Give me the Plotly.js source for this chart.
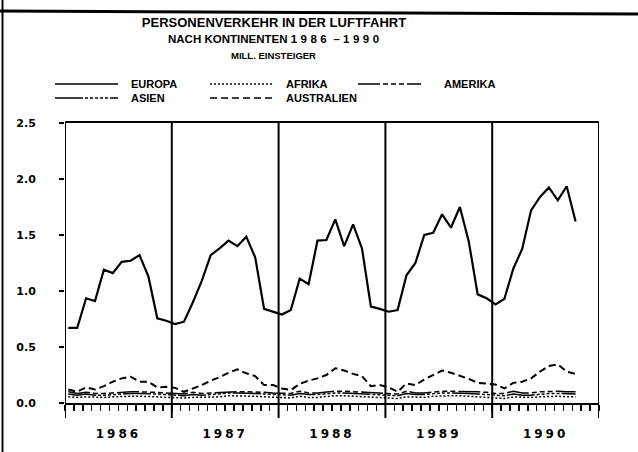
<!DOCTYPE html>
<html><head><meta charset="utf-8">
<script src="https://cdn.plot.ly/plotly-3.0.1.min.js"></script>
<style>
html,body{margin:0;padding:0;background:#fff;}
#chart{width:638px;height:452px;}
.xtick text{letter-spacing:3px;}
</style></head><body><div id="chart"></div>
<script>
// ---- data ----
const years = [1986, 1987, 1988, 1989, 1990];
const yearLabels = ['1986', '1987', '1988', '1989', '1990'];
const yTickVals = [0, 0.5, 1, 1.5, 2, 2.5];
const yTickLabels = ['0.0', '0.5', '1.0', '1.5', '2.0', '2.5'];
const seriesNames = ['EUROPA', 'AFRIKA', 'AMERIKA', 'ASIEN', 'AUSTRALIEN'];
// monthly values, Jan 1986 .. Oct 1990 (Mill. Einsteiger)
const europa = [0.67,0.67,0.935,0.91,1.19,1.16,1.26,1.27,1.32,1.13,0.756,0.735,
  0.705,0.726,0.90,1.09,1.32,1.38,1.45,1.40,1.485,1.30,0.84,0.815,
  0.79,0.83,1.11,1.06,1.45,1.455,1.64,1.40,1.595,1.38,0.86,0.84,
  0.815,0.83,1.14,1.25,1.50,1.52,1.685,1.565,1.75,1.44,0.97,0.935,
  0.88,0.93,1.20,1.375,1.72,1.84,1.925,1.81,1.935,1.62];
const afrika = [0.056,0.050,0.055,0.050,0.050,0.055,0.060,0.060,0.060,0.060,0.055,0.050,
  0.045,0.045,0.050,0.050,0.050,0.055,0.065,0.065,0.065,0.060,0.055,0.050,
  0.045,0.045,0.060,0.050,0.050,0.060,0.065,0.065,0.060,0.060,0.055,0.050,
  0.045,0.040,0.055,0.050,0.050,0.060,0.065,0.065,0.065,0.060,0.055,0.045,
  0.040,0.040,0.055,0.050,0.050,0.055,0.060,0.060,0.056,0.056];
const amerika = [0.100,0.085,0.095,0.085,0.085,0.090,0.100,0.100,0.100,0.100,0.095,0.090,
  0.085,0.080,0.095,0.085,0.090,0.095,0.100,0.100,0.100,0.100,0.095,0.090,
  0.085,0.085,0.105,0.090,0.090,0.100,0.105,0.105,0.100,0.100,0.095,0.090,
  0.085,0.080,0.105,0.090,0.090,0.100,0.105,0.105,0.105,0.100,0.100,0.095,
  0.085,0.085,0.105,0.090,0.090,0.100,0.105,0.105,0.100,0.100];
const asien = [0.080,0.070,0.080,0.070,0.070,0.075,0.085,0.085,0.085,0.085,0.080,0.075,
  0.070,0.065,0.075,0.070,0.075,0.085,0.090,0.090,0.090,0.085,0.080,0.075,
  0.070,0.070,0.085,0.075,0.075,0.085,0.090,0.090,0.085,0.085,0.080,0.075,
  0.065,0.065,0.085,0.075,0.075,0.085,0.090,0.090,0.090,0.085,0.080,0.075,
  0.065,0.065,0.080,0.070,0.070,0.080,0.085,0.085,0.080,0.080];
const australien = [0.12,0.10,0.14,0.12,0.15,0.19,0.22,0.235,0.19,0.19,0.14,0.145,
  0.135,0.10,0.13,0.16,0.20,0.23,0.27,0.30,0.265,0.24,0.16,0.16,
  0.13,0.116,0.17,0.20,0.22,0.25,0.31,0.29,0.26,0.24,0.15,0.16,
  0.14,0.10,0.175,0.16,0.21,0.25,0.29,0.27,0.245,0.215,0.18,0.17,
  0.165,0.13,0.18,0.19,0.22,0.28,0.33,0.345,0.28,0.26];
const seriesValues = [europa, afrika, amerika, asien, australien];

// ---- styles ----
const styles = [
  {dash: 'solid', width: 2.2},
  {dash: '2px,2px', width: 1.5},
  {dash: '22px,3px,5px,3px,5px,3px,5px,3px', width: 1.5},
  {dash: '28px,2px,3px,2px,3px,2px,3px,2px,3px,2px,3px,2px', width: 1.5},
  {dash: '7px,4px', width: 2}
];
const W = 638, H = 452, ML = 65, MR = 39, MT = 123, MB = 49;
const PW = W - ML - MR, PH = H - MT - MB;
const px = v => (v - ML) / PW;          // pixel -> paper x
const py = v => (H - MB - v) / PH;      // pixel -> paper y
const MONTH_OFFSET = 0.37;

const traces = seriesValues.map((vals, s) => ({
  type: 'scatter', mode: 'lines', name: seriesNames[s],
  x: vals.map((_, i) => years[0] + (i + MONTH_OFFSET) / 12),
  y: vals,
  line: {color: '#000', width: styles[s].width, dash: styles[s].dash},
  showlegend: false, hoverinfo: 'x+y+name'
}));

const shapes = [];
// year separators (incl. both frame sides)
years.concat([years[years.length - 1] + 1]).forEach(yr => {
  shapes.push({type: 'line', xref: 'x', yref: 'paper', x0: yr, x1: yr,
    y0: -15 / PH, y1: 1, line: {color: '#000', width: 2}});
});
// page frame (top and left border of scanned sheet)
shapes.push({type: 'line', xref: 'paper', yref: 'paper', x0: px(0), x1: px(W),
  y0: py(11), y1: py(14), line: {color: '#000', width: 3}});
shapes.push({type: 'line', xref: 'paper', yref: 'paper', x0: px(2.5), x1: px(2.5),
  y0: py(0), y1: py(H), line: {color: '#000', width: 2}});

// custom legend
const legendPos = [
  {lx: 55, tx: 130, y: 84}, {lx: 210, tx: 285, y: 84}, {lx: 358, tx: 443, y: 84},
  {lx: 55, tx: 130, y: 98}, {lx: 210, tx: 285, y: 98}
];
const annotations = [];
seriesNames.forEach((n, s) => {
  const p = legendPos[s];
  shapes.push({type: 'line', xref: 'paper', yref: 'paper', x0: px(p.lx), x1: px(p.lx + 63),
    y0: py(p.y), y1: py(p.y), line: {color: '#000', width: 1.5, dash: styles[s].dash}});
  annotations.push({xref: 'paper', yref: 'paper', x: px(p.tx), y: py(p.y), text: n,
    showarrow: false, xanchor: 'left', yanchor: 'middle', borderpad: 0,
    font: {family: 'Liberation Sans', size: 11, weight: 'bold', color: '#000'}});
});
annotations.push({xref: 'paper', yref: 'paper', x: px(275), y: py(39),
  text: "NACH KONTINENTEN <span style='letter-spacing:3.5px'>1986</span> – <span style='letter-spacing:3.5px'>1990</span>",
  showarrow: false, xanchor: 'center', yanchor: 'middle', borderpad: 0,
  font: {family: 'Liberation Sans', size: 11.5, weight: 'bold', color: '#000'}});
annotations.push({xref: 'paper', yref: 'paper', x: px(273), y: py(55),
  text: 'MILL. EINSTEIGER', showarrow: false, xanchor: 'center', yanchor: 'middle', borderpad: 0,
  font: {family: 'Liberation Sans', size: 9.5, weight: 'bold', color: '#000'}});

const tickFont = {family: 'DejaVu Sans', size: 11, weight: 'bold', color: '#000'};
const layout = {
  width: W, height: H,
  margin: {l: ML, r: MR, t: MT, b: MB, pad: 0},
  paper_bgcolor: '#fff', plot_bgcolor: '#fff',
  title: {text: 'PERSONENVERKEHR IN DER LUFTFAHRT', x: 274 / W, xanchor: 'center',
    y: 1 - 22 / H, yanchor: 'middle',
    font: {family: 'Liberation Sans', size: 13, weight: 'bold', color: '#000'}},
  showlegend: false,
  xaxis: {range: [years[0], years[years.length - 1] + 1], showgrid: false, zeroline: false,
    showline: true, linecolor: '#000', linewidth: 2, mirror: true,
    tickvals: years.map(y => y + 0.5), ticktext: yearLabels,
    ticks: 'outside', ticklen: 6, tickwidth: 1.5, tickcolor: '#000',
    minor: {tick0: years[0], dtick: 1 / 12, ticks: 'outside', ticklen: 6, tickwidth: 1.5, tickcolor: '#000', showgrid: false},
    tickfont: {family: 'DejaVu Sans', size: 12, weight: 'bold', color: '#000'},
    ticklabelstandoff: 13, fixedrange: true},
  yaxis: {range: [0, 2.5], tickvals: yTickVals, ticktext: yTickLabels, showgrid: false, zeroline: false,
    showline: false, ticks: 'outside', ticklen: 5, tickwidth: 2, tickcolor: '#000',
    tickfont: tickFont, ticklabelstandoff: 21, fixedrange: true},
  yaxis2: {range: [0, 2.5], overlaying: 'y', side: 'right', tickvals: yTickVals, ticktext: yTickLabels,
    showgrid: false, zeroline: false, showline: false, ticks: 'outside', ticklen: 5, tickwidth: 2,
    tickcolor: '#000', tickfont: tickFont, ticklabelstandoff: 5, fixedrange: true},
  shapes: shapes, annotations: annotations
};
Plotly.newPlot('chart', traces, layout, {displayModeBar: false, staticPlot: true});
</script></body></html>
